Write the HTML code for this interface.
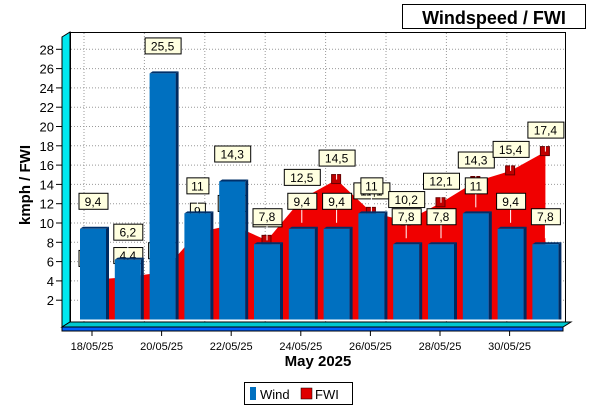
<!DOCTYPE html>
<html><head><meta charset="utf-8"><style>
body{margin:0;background:#fff;}
svg{display:block;font-family:"Liberation Sans",sans-serif;}
</style></head><body>
<svg id="chart" width="600" height="420" viewBox="0 0 600 420">
<rect x="0" y="0" width="600" height="420" fill="#fff"/>
<g>
<rect x="402.5" y="4.5" width="183" height="24" fill="#fff" stroke="#000"/>
<text x="494" y="24" text-anchor="middle" font-size="18" font-weight="bold">Windspeed / FWI</text>
</g>
<rect x="70.5" y="32.5" width="495" height="290" fill="#fff" stroke="#000"/>
<g id="grid"></g>
<g id="fwi"></g>
<g id="fwilabels"></g>
<g id="bars"></g>
<g id="walls"></g>
<g id="labels"></g>
<g id="axes"></g>
<text x="30" y="185" transform="rotate(-90 30 185)" text-anchor="middle" font-size="15" font-weight="bold">kmph / FWI</text>
<text x="318" y="366" text-anchor="middle" font-size="15" font-weight="bold">May 2025</text>
<g>
<rect x="244.5" y="382.5" width="108" height="22" fill="#fff" stroke="#000"/>
<g><rect x="250" y="387" width="6" height="13" fill="#0070c0"/><text x="260" y="399" font-size="13">Wind</text></g>
<g><rect x="301" y="388" width="11" height="11" fill="#e00000" stroke="#000" stroke-width="0.5"/><text x="315" y="399" font-size="13">FWI</text></g>
</g>
</svg>
<script>
const dates=["18/05","19/05","20/05","21/05","22/05","23/05","24/05","25/05","26/05","27/05","28/05","29/05","30/05","31/05"];
const windValues=[9.4,6.2,25.5,11,14.3,7.8,9.4,9.4,11,7.8,7.8,11,9.4,7.8];
const fwiValues=[4.1,4.4,4.9,9.0,9.8,8.2,12.5,14.5,11.1,10.2,12.1,14.3,15.4,17.4];
const yTicks=[2,4,6,8,10,12,14,16,18,20,22,24,26,28];
const xTickLabels=["18/05/25","20/05/25","22/05/25","24/05/25","26/05/25","28/05/25","30/05/25"];
const NS="http://www.w3.org/2000/svg";
const y=v=>319.5-v*9.65;
const x=i=>93+i*34.8;
function mk(tag,attrs,parent,txt){const e=document.createElementNS(NS,tag);for(const k in attrs)e.setAttribute(k,attrs[k]);if(txt!==undefined)e.textContent=txt;document.getElementById(parent).appendChild(e);return e;}
const fmt=v=>String(v).replace('.',',');
yTicks.forEach(t=>{const l=mk('line',{x1:71,x2:565,y1:y(t),y2:y(t),stroke:'#999','stroke-dasharray':'1,2'},'grid');

});
for(let gx=84;gx<565;gx+=60.4){const l=mk('line',{x1:gx,x2:gx,y1:33,y2:322,stroke:'#999','stroke-dasharray':'1,2'},'grid');

}
let d='M'+x(0)+','+y(0);
fwiValues.forEach((v,i)=>{d+=' L'+x(i)+','+y(v);});
d+=' L'+x(fwiValues.length-1)+','+y(0)+' Z';
const area=mk('path',{d:d,fill:'#f00000'},'fwi');


fwiValues.forEach((v,i)=>{const m=mk('rect',{x:x(i)-5,y:y(v)-5,width:9,height:9,fill:'#c00000',stroke:'#600','stroke-width':1},'fwi');

});
function label(cx,cy,txt,name,parent){const w=txt.length*7+8;
const ln=mk('line',{x1:cx,x2:cx,y1:cy+8,y2:cy+22,stroke:'#fff'},parent);


const r=mk('rect',{x:cx-w/2+0.5,y:cy-7.5,width:w,height:16,fill:'#ffffe0',stroke:'#000'},parent);


const t=mk('text',{x:cx,y:cy+5,'text-anchor':'middle','font-size':12},parent,txt);

}
fwiValues.forEach((v,i)=>label(x(i),y(v)-22,fmt(v),'fwi-value-label','fwilabels'));
windValues.forEach((v,i)=>{const bx=x(i)-13,by=y(v);
const s=mk('polygon',{points:`${bx+26},${by} ${bx+29},${by-2} ${bx+29},${y(0)} ${bx+26},${y(0)}`,fill:'#002a60'},'bars');


const t=mk('polygon',{points:`${bx},${by} ${bx+3},${by-2} ${bx+29},${by-2} ${bx+26},${by}`,fill:'#00306a'},'bars');


const b=mk('rect',{x:bx,y:by,width:26,height:y(0)-by,fill:'#0070c0'},'bars');

});
const w1=mk('polygon',{points:'62,37 70,32 70,322 62,327',fill:'#00e8f0',stroke:'#000'},'walls');


const w2=mk('polygon',{points:'62,327 70,322 571,322 563,327',fill:'#00c8d0',stroke:'#000'},'walls');


const w3=mk('rect',{x:62,y:327,width:501,height:4,fill:'#0060ff',stroke:'#000'},'walls');


windValues.forEach((v,i)=>label(x(i),y(v)-28,fmt(v),'wind-value-label','labels'));
yTicks.forEach(t=>{const l=mk('line',{x1:56,x2:62,y1:y(t),y2:y(t),stroke:'#000'},'axes');


const tx=mk('text',{x:54,y:y(t)+5,'text-anchor':'end','font-size':13},'axes',String(t));

});
xTickLabels.forEach((s,k)=>{const px=x(k*2)-1;
const l=mk('line',{x1:px,x2:px,y1:331,y2:336,stroke:'#000'},'axes');


const tx=mk('text',{x:px,y:350,'text-anchor':'middle','font-size':11},'axes',s);

});
</script>
</body></html>
